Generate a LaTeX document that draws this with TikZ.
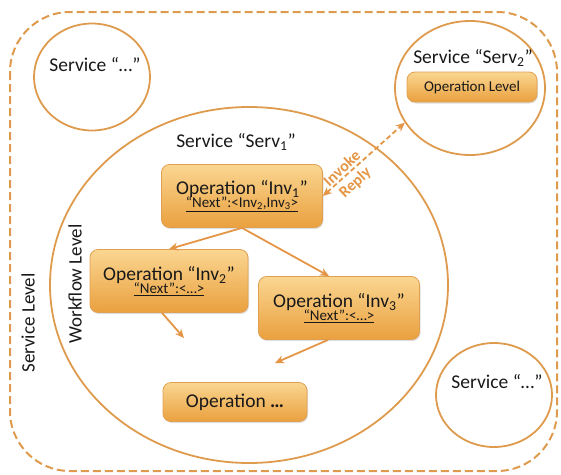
\documentclass[tikz,border=0pt]{standalone}
\usepackage{fontspec}
\setmainfont{Carlito}
\usetikzlibrary{arrows.meta,shapes.geometric,shadows}
\definecolor{lineor}{RGB}{222,155,78}
\definecolor{arrowor}{RGB}{228,150,70}
\definecolor{boxtop}{RGB}{250,214,145}
\definecolor{boxbot}{RGB}{234,160,62}
\definecolor{boxedge}{RGB}{224,160,82}
\definecolor{txt}{RGB}{25,25,25}
\tikzset{
  svc/.style={ellipse, draw=lineor, line width=1.8pt, inner sep=0pt},
  opbox/.style={rounded corners=8pt, draw=boxedge, line width=0.8pt,
    top color=boxtop, bottom color=boxbot, inner sep=0pt,
    drop shadow={opacity=0.25, shadow xshift=1pt, shadow yshift=-1.5pt},
    text=txt, align=center},
  lbl/.style={text=txt, inner sep=0pt, font=\fontsize{19.5}{22}\selectfont},
  flow/.style={draw=arrowor, line width=1.8pt, -{Stealth[length=9pt,width=8pt]}},
  irlbl/.style={text=arrowor, inner sep=0pt, align=center, font=\fontsize{16}{19}\selectfont\bfseries, rotate=43}
}
\begin{document}
\begin{tikzpicture}[x=1pt,y=-1pt]
\useasboundingbox (0,0) rectangle (561,474);
\draw[draw=lineor, line width=2pt, dash pattern=on 8pt off 4pt, rounded corners=60pt] (10,12) rectangle (557,471);
% service circles
\node[svc, minimum width=398pt, minimum height=356pt] (serv1) at (249,285) {};
\node[svc, minimum width=116pt, minimum height=107pt] (svctl) at (92,77) {};
\node[svc, minimum width=150pt, minimum height=134pt] (serv2) at (470,88) {};
\node[svc, minimum width=116pt, minimum height=104pt] (svcbr) at (494,395) {};
% labels
\node[lbl] (tlservice) at (95,65) {Service “…”};
\node[lbl] (brservice) at (497,382) {Service “…”};
\node[lbl] (serv2lbl) at (473,58) {Service “Serv\textsubscript{2}”};
\node[lbl] (serv1lbl) at (236,142) {Service “Serv\textsubscript{1}”};
\node[lbl, rotate=90, font=\fontsize{19}{22}\selectfont] (wflevel) at (75,284) {Workflow Level};
\node[lbl, rotate=90, font=\fontsize{19}{22}\selectfont] (svlevel) at (28,323) {Service Level};
% operation boxes
\node[opbox, minimum width=130pt, minimum height=30pt, font=\fontsize{15}{17}\selectfont] (oplevel) at (472,87) {Operation Level};
\node[opbox, minimum width=161pt, minimum height=63pt] (inv1) at (242,196)
  {{\fontsize{19.5}{22}\selectfont Operation “Inv\textsubscript{1}”}\\[-2pt]
   {\fontsize{15}{17}\selectfont\underline{“Next”:<Inv\textsubscript{2},Inv\textsubscript{3}>}}};
\node[opbox, minimum width=158pt, minimum height=63pt] (inv2) at (169,281)
  {{\fontsize{19.5}{22}\selectfont Operation “Inv\textsubscript{2}”}\\[-2pt]
   {\fontsize{15}{17}\selectfont\underline{“Next”:<…>}}};
\node[opbox, minimum width=161pt, minimum height=63pt] (inv3) at (339,308)
  {{\fontsize{19.5}{22}\selectfont Operation “Inv\textsubscript{3}”}\\[-2pt]
   {\fontsize{15}{17}\selectfont\underline{“Next”:<…>}}};
\node[opbox, minimum width=144pt, minimum height=39pt, font=\fontsize{19.5}{22}\selectfont] (opdots) at (235,402) {Operation \textbf{…}};
% connectors
\coordinate (end2) at (184,338);
\coordinate (end3) at (275,363);
\draw[flow] (inv1.south) -- (inv2.north);
\draw[flow] (inv1.south) -- ([xshift=-10pt]inv3.north);
\draw[flow] ([xshift=-7pt]inv2.south) -- (end2);
\draw[flow] ([xshift=-11pt]inv3.south) -- (end3);
\draw[draw=arrowor, line width=1.8pt, dash pattern=on 5pt off 3pt, {Stealth[length=9pt,width=8pt]}-{Stealth[length=9pt,width=8pt]}] (inv1.east) -- (serv2.208);
\node[irlbl] (invreply) at (349,176) {Invoke\\Reply};
\end{tikzpicture}
\end{document}
